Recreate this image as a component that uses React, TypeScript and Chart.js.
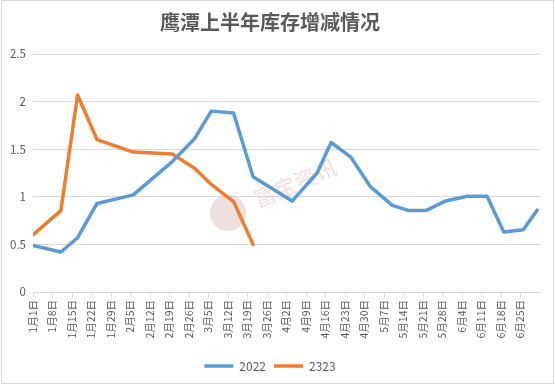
import React, { useEffect, useRef } from 'react';
import { Chart, registerables } from 'chart.js';

Chart.register(...registerables);

// Observation dates (month-day), shared by both series
const pointDates = [
  '01-01', '01-11', '01-17', '01-24', '02-06', '02-20', '02-28', '03-06',
  '03-14', '03-21', '04-04', '04-13', '04-18', '04-25', '05-02', '05-10',
  '05-16', '05-22', '05-29', '06-06', '06-13', '06-19', '06-26', '07-01',
];

const series2022 = [
  0.49, 0.42, 0.57, 0.93, 1.02, 1.37, 1.61, 1.9,
  1.88, 1.21, 0.955, 1.25, 1.57, 1.42, 1.11, 0.91,
  0.855, 0.855, 0.955, 1.005, 1.005, 0.63, 0.655, 0.86,
];

const series2323 = [0.6, 0.855, 2.07, 1.6, 1.47, 1.45, 1.3, 1.13, 0.95, 0.5];

const tickLabels = [
  '1月1日', '1月8日', '1月15日', '1月22日', '1月29日', '2月5日', '2月12日',
  '2月19日', '2月26日', '3月5日', '3月12日', '3月19日', '3月26日', '4月2日',
  '4月9日', '4月16日', '4月23日', '4月30日', '5月7日', '5月14日', '5月21日',
  '5月28日', '6月4日', '6月11日', '6月18日', '6月25日',
];

const yTickLabels = ['0', '0.5', '1', '1.5', '2', '2.5'];

const seriesNames = ['2022', '2323'];
const titleText = '鹰潭上半年库存增减情况';
const watermarkText = '富宝资讯';

const monthStart = [0, 31, 59, 90, 120, 151, 181, 212];
const dayOf = (md: string) => {
  const [m, d] = md.split('-').map(Number);
  return monthStart[m - 1] + d - 1;
};

const FONT = '"Noto Sans CJK SC", "Noto Sans", sans-serif';

const watermarkPlugin = {
  id: 'watermark',
  beforeDatasetsDraw(chart: any) {
    const ctx = chart.ctx;
    ctx.save();
    ctx.fillStyle = 'rgba(205,150,150,0.3)';
    ctx.beginPath();
    ctx.arc(228, 213, 18, 0, Math.PI * 2);
    ctx.fill();
    ctx.translate(295, 183);
    ctx.rotate((-23 * Math.PI) / 180);
    ctx.font = `22px ${FONT}`;
    ctx.textAlign = 'center';
    ctx.textBaseline = 'middle';
    ctx.fillStyle = 'rgba(215,160,160,0.35)';
    ctx.fillText(watermarkText, 0, 0);
    ctx.restore();
  },
};

const framePlugin = {
  id: 'frame',
  beforeDraw(chart: any) {
    const ctx = chart.ctx;
    ctx.save();
    ctx.fillStyle = '#ffffff';
    ctx.fillRect(0, 0, chart.width, chart.height);
    ctx.restore();
  },
  afterDraw(chart: any) {
    const ctx = chart.ctx;
    ctx.save();
    ctx.strokeStyle = '#d9d9d9';
    ctx.lineWidth = 1;
    ctx.strokeRect(1.5, 0.5, 552, 383);
    ctx.restore();
  },
};

export default function App() {
  const canvasRef = useRef<HTMLCanvasElement | null>(null);

  useEffect(() => {
    document.body.style.margin = '0';
    const canvas = canvasRef.current;
    if (!canvas) return;
    const days = pointDates.map(dayOf);
    const tickDays = tickLabels.map((_, i) => i * 7);

    const chart = new Chart(canvas, {
      type: 'line',
      data: {
        datasets: [
          {
            label: seriesNames[0],
            data: series2022.map((v, i) => ({ x: days[i], y: v })),
            borderColor: '#5b9bd5',
            backgroundColor: '#5b9bd5',
            borderWidth: 3.5,
            pointRadius: 0,
            borderJoinStyle: 'round',
            borderCapStyle: 'round',
            tension: 0,
          },
          {
            label: seriesNames[1],
            data: series2323.map((v, i) => ({ x: days[i], y: v })),
            borderColor: '#ed7d31',
            backgroundColor: '#ed7d31',
            borderWidth: 3.5,
            pointRadius: 0,
            borderJoinStyle: 'round',
            borderCapStyle: 'round',
            tension: 0,
          },
        ],
      },
      options: {
        responsive: false,
        animation: false,
        layout: { padding: { left: 0, right: 15, top: 0, bottom: 4 } },
        plugins: {
          title: {
            display: true,
            text: titleText,
            color: '#595959',
            font: { family: FONT, size: 20, weight: 'bold' },
            padding: { top: 10, bottom: 20 },
          },
          legend: {
            position: 'bottom',
            labels: {
              usePointStyle: true,
              pointStyle: 'line',
              pointStyleWidth: 29,
              boxHeight: 12,
              color: '#595959',
              font: { family: FONT, size: 12 },
              padding: 8,
            },
          },
          tooltip: { enabled: false },
        },
        scales: {
          x: {
            type: 'linear',
            min: 0,
            max: 182,
            afterBuildTicks: (axis: any) => {
              axis.ticks = tickDays.map((v) => ({ value: v }));
            },
            afterFit: (axis: any) => {
              axis.height = 60;
            },
            ticks: {
              autoSkip: false,
              maxRotation: 90,
              minRotation: 90,
              padding: 3,
              color: '#595959',
              font: { family: FONT, size: 10.5 },
              callback: (value: any) => tickLabels[Math.round(Number(value) / 7)] ?? '',
            },
            grid: {
              drawOnChartArea: false,
              drawTicks: true,
              tickLength: 5,
              color: '#d9d9d9',
            },
            border: { display: true, color: '#d9d9d9', width: 1 },
          },
          y: {
            min: 0,
            max: 2.5,
            afterFit: (axis: any) => {
              axis.width = 33;
            },
            ticks: {
              stepSize: 0.5,
              padding: 7,
              color: '#595959',
              font: { family: FONT, size: 11.5 },
              callback: (value: any) => yTickLabels[Math.round(Number(value) * 2)] ?? '',
            },
            grid: { color: '#d9d9d9', drawTicks: false },
            border: { display: false },
          },
        },
      },
      plugins: [framePlugin, watermarkPlugin],
    } as any);

    return () => chart.destroy();
  }, []);

  return (
    <div style={{ width: 555, height: 386 }}>
      <canvas ref={canvasRef} width={555} height={386} style={{ width: 555, height: 386, display: 'block' }} />
    </div>
  );
}
